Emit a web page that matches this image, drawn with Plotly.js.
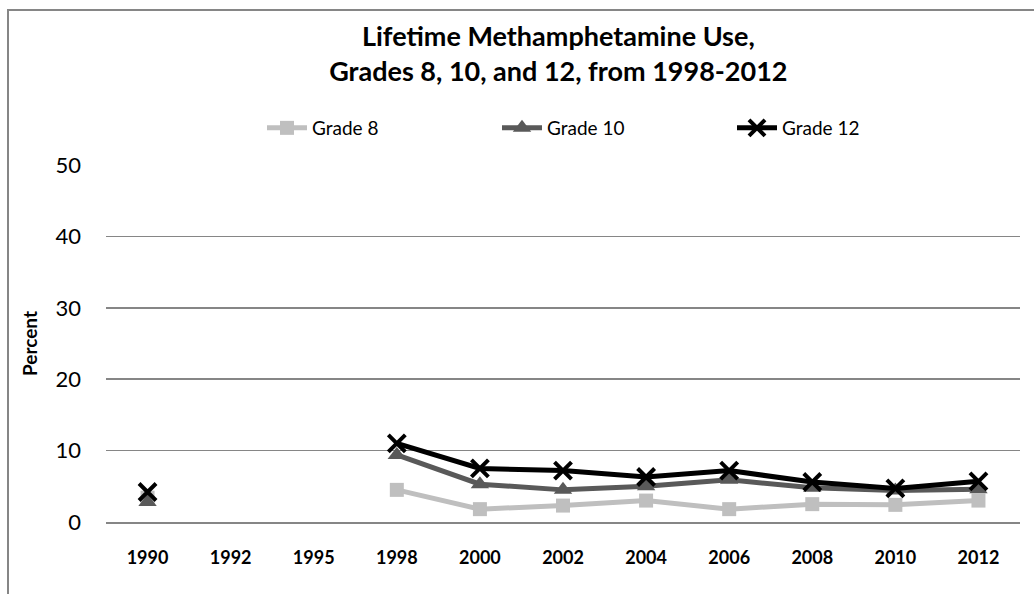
<!DOCTYPE html>
<html>
<head>
<meta charset="utf-8">
<script src="https://cdn.plot.ly/plotly-3.0.1.min.js"></script>
<style>
html,body{margin:0;padding:0;background:#fff;}
#chart{width:1034px;height:594px;}
</style>
</head>
<body>
<div id="chart"></div>
<script>
var years = ['1990','1992','1995','1998','2000','2002','2004','2006','2008','2010','2012'];
var grade8  = [3.4, null, null, 4.5, 1.8, 2.3, 3.0, 1.8, 2.5, 2.4, 3.0];
var grade10 = [2.8, null, null, 9.4, 5.3, 4.5, 5.0, 5.9, 4.8, 4.4, 4.6];
var grade12 = [4.2, null, null, 11.0, 7.5, 7.2, 6.3, 7.2, 5.6, 4.7, 5.7];
var seriesNames = ['Grade 8', 'Grade 10', 'Grade 12'];
var yTicks = [0, 10, 20, 30, 40, 50];

var font = 'Lato, "Open Sans", sans-serif';

var traces = [
  {x: years, y: grade8, name: seriesNames[0], type: 'scatter', mode: 'lines+markers',
   line: {color: '#BFBFBF', width: 5}, marker: {symbol: 'square', size: 14, color: '#BFBFBF'}, connectgaps: false},
  {x: years, y: grade10, name: seriesNames[1], type: 'scatter', mode: 'lines+markers',
   line: {color: '#595959', width: 5}, marker: {symbol: 'triangle-up', size: 16, color: '#595959'}, connectgaps: false},
  {x: years, y: grade12, name: seriesNames[2], type: 'scatter', mode: 'lines+markers',
   line: {color: '#000000', width: 5}, marker: {symbol: 'x-thin', size: 17, color: '#000000', line: {width: 4, color: '#000000'}}, connectgaps: false}
];

var last = years.length - 1;
var labelData = [
  {v: grade12[last], shift: 11},
  {v: grade10[last], shift: 0},
  {v: grade8[last], shift: -9}
];
var annotations = labelData.map(function(d){
  return {x: years[last], y: d.v, xref: 'x', yref: 'y', text: String(Math.round(d.v)),
    showarrow: false, xanchor: 'left', xshift: 22, yshift: d.shift,
    font: {family: font, size: 19, color: '#000'}};
});

var L = 106, R = 14, T = 165, B = 72;
var W = 1034 - L - R, H = 594 - T - B;
var px0 = (8 - L) / W, py0 = (594 - B - 10) / H;

var layout = {
  width: 1034, height: 594,
  margin: {l: L, r: R, t: T, b: B, pad: 0},
  paper_bgcolor: '#ffffff', plot_bgcolor: '#ffffff',
  title: {text: 'Lifetime Methamphetamine Use,<br>Grades 8, 10, and 12, from 1998-2012',
    font: {family: font, size: 27, color: '#000', weight: 'bold'},
    x: 0.54, xanchor: 'center', y: 0.922, yanchor: 'middle'},
  showlegend: true,
  legend: {orientation: 'h', x: (262 - L) / W, xanchor: 'left', y: (594 - B - 128) / H, yanchor: 'middle',
    font: {family: font, size: 19, color: '#000'}, itemwidth: 40, entrywidth: 180, entrywidthmode: 'pixels',
    tracegroupgap: 0, bgcolor: 'rgba(0,0,0,0)'},
  xaxis: {type: 'category', categoryorder: 'array', categoryarray: years,
    range: [-0.5, years.length - 0.5], showgrid: false, zeroline: false,
    showline: true, linecolor: '#868686', linewidth: 2, ticks: '',
    tickfont: {family: font, size: 18, color: '#000', weight: 'bold'}, ticklabelstandoff: 18},
  yaxis: {range: [0, 50], tickvals: yTicks, showgrid: true, gridcolor: '#868686', gridwidth: 1.5,
    zeroline: false, showline: false, ticks: '',
    tickfont: {family: font, size: 22, color: '#000'}, ticklabelstandoff: 24,
    title: {text: 'Percent', font: {family: font, size: 19, color: '#000', weight: 'bold'}, standoff: 12}},
  shapes: [
    {type: 'path', xref: 'paper', yref: 'paper',
     path: 'M ' + px0 + ' -0.3 L ' + px0 + ' ' + py0 + ' L 1.1 ' + py0,
     line: {color: '#868686', width: 2}}
  ],
  annotations: annotations
};

Plotly.newPlot('chart', traces, layout, {displayModeBar: false, staticPlot: true});
</script>
</body>
</html>
